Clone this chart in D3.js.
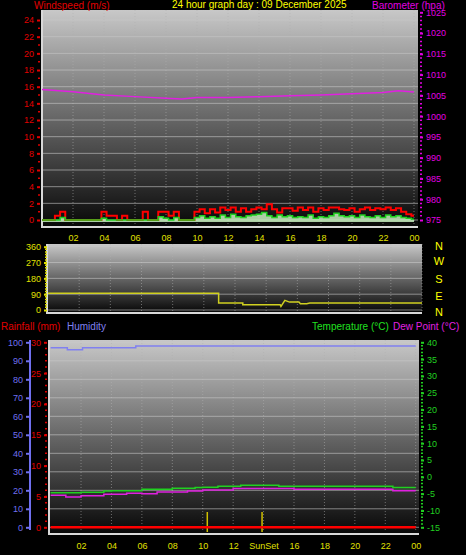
<!DOCTYPE html>
<html><head><meta charset="utf-8">
<script src="https://cdn.jsdelivr.net/npm/d3@7"></script>
<style>body{margin:0;background:#000}svg{display:block}text{font-family:"Liberation Sans","DejaVu Sans",sans-serif}</style>
</head><body><svg id="c" width="466" height="555"></svg>
<script>
// ---- data ----
const hourTicks = [2,4,6,8,10,12,14,16,18,20,22,24];
const hourLabels = ["02","04","06","08","10","12","14","16","18","20","22","00"];
const bottomLabels = ["02","04","06","08","10","12","SunSet","16","18","20","22","00"];
const pressHours = [0,2,4,6,8,9,10,12,14,16,18,20,22,23,24];
const pressure =   [1006.4,1005.9,1005.1,1004.7,1004.3,1004.1,1004.5,1004.5,1004.7,1004.9,1005.1,1005.4,1005.7,1006.1,1005.8];
const gust = [0,0,0, 0.5,1,0, 0,0,0, 0,0,0, 1,0.5,0.5, 0,0.5,0, 0,0,1, 0,0,1, 1,0.5,1, 0,0,0,
  1,1.3,0.8, 1.3,0.9,1.5, 1.2,1.5,1, 1.4,1,1.3, 1.5,1.3,1.9, 1.3,0.9,1.4, 1.4,1.1,1.5, 1.2,1.5,1,
  1.4,1.2,1.5, 1.5,1.3,1.2, 1.4,1,1.3, 1.5,1.2,1.4, 1.3,1.5,1.2, 1.4,1,0.7, 0.5];
const avgWind = [0,0,0, 0,0.3,0, 0,0,0, 0,0,0, 0.2,0,0, 0,0,0, 0,0,0, 0,0,0.4, 0.2,0,0.3, 0,0,0,
  0.3,0.5,0.2, 0.4,0.2,0.6, 0.3,0.7,0.4, 0.3,0.5,0.6, 0.7,0.9,0.5, 0.3,0.6,0.4, 0.5,0.3,0.4, 0.3,0.6,0.2,
  0.4,0.3,0.5, 0.8,0.5,0.4, 0.5,0.3,0.6, 0.4,0.3,0.5, 0.3,0.6,0.4, 0.5,0.3,0.2, 0.1];
const dirHours = [0,10.95,10.95,12.5,12.5,14.9,14.95,15.2,15.5,16.1,16.2,16.6,16.8,24];
const direction = [95,95,40,40,30,30,20,55,45,45,35,35,40,40];
const humHours = [0,1,1.1,2,2.1,5.5,5.6,24];
const humidity = [97,97,96,96,97,97,98,98];
const tHours = [0,2,3.5,4,6,8,9.5,10,11,12.5,15,22,22.5,24];
const temperature = [-4.7,-4.6,-4.2,-4.1,-3.7,-3.4,-3.2,-3.1,-2.8,-2.5,-2.8,-2.8,-3.2,-3.2];
const dHours = [0,1,2,3.5,5,6,7,9,10,12,15,16,22,22.5,24];
const dewpoint = [-5.5,-6.0,-5.6,-5.2,-4.9,-5.0,-4.5,-4.2,-3.9,-3.5,-3.5,-3.7,-3.7,-4.1,-4.1];
const rainfall = [0,0];
const sunEvents = [10.3,13.9];

const svg = d3.select("#c");
const defs = svg.append("defs");
const g = defs.append("linearGradient").attr("id","bg").attr("x1",0).attr("x2",0).attr("y1",0).attr("y2",1);
g.append("stop").attr("offset","0%").attr("stop-color","#c8c8c8");
g.append("stop").attr("offset","45%").attr("stop-color","#707070");
g.append("stop").attr("offset","100%").attr("stop-color","#080808");

function panel(x0,x1,y0,y1){
  svg.append("rect").attr("x",x0-2).attr("y",y0).attr("width",x1-x0+2).attr("height",y1-y0+2).attr("fill","#d8d8d8");
  svg.append("rect").attr("x",x0).attr("y",y0).attr("width",x1-x0).attr("height",y1-y0).attr("fill","url(#bg)");
}
function grid(x,y,xt,yt,x0,x1,y0,y1){
  svg.append("g").selectAll("line").data(xt).join("line").attr("x1",d=>x(d)).attr("x2",d=>x(d)).attr("y1",y0).attr("y2",y1)
    .attr("stroke","#b0b0b0").attr("stroke-opacity",0.55).attr("stroke-dasharray","1,2");
  svg.append("g").selectAll("line").data(yt).join("line").attr("y1",d=>y(d)).attr("y2",d=>y(d)).attr("x1",x0).attr("x2",x1)
    .attr("stroke","#c8c8c8").attr("stroke-opacity",0.6).attr("stroke-width",1);
}
function yAxis(scale,ticks,x,color,side,minor,fmt){
  const ax = (side==="left"?d3.axisLeft(scale):d3.axisRight(scale)).tickValues(ticks).tickSize(3).tickFormat(fmt||(d=>d));
  const a = svg.append("g").attr("transform",`translate(${x},0)`).call(ax);
  a.select(".domain").remove();
  a.selectAll("line").attr("stroke",color).attr("stroke-width",2);
  a.selectAll("text").attr("fill",color).attr("font-size",9);
  if(minor){
    svg.append("g").selectAll("line").data(minor).join("line").attr("x1",x).attr("x2",side==="left"?x-2:x+2)
      .attr("y1",d=>scale(d)).attr("y2",d=>scale(d)).attr("stroke",color).attr("stroke-width",1.5);
  }
  return a;
}
function xAxis(scale,y,labels){
  const a = svg.append("g").attr("transform",`translate(0,${y})`)
    .call(d3.axisBottom(scale).tickValues(hourTicks).tickSize(0).tickPadding(6).tickFormat((d,i)=>labels[i]));
  a.select(".domain").remove();
  a.selectAll("text").attr("fill","#e0e000").attr("font-size",9);
}
function txt(x,y,s,c,size,anchor){svg.append("text").attr("x",x).attr("y",y).text(s).attr("fill",c).attr("font-size",size||10).attr("text-anchor",anchor||"start");}

// ---- top panel ----
const x1 = d3.scaleLinear().domain([0,24]).range([42,414]);
const yW = d3.scaleLinear().domain([0,25]).range([220,11.7]);
const yP = d3.scaleLinear().domain([975,1025]).range([220,12.3]);
panel(43,418,10,226);
grid(x1,yW,hourTicks,d3.range(0,25,2),43,418,10,225);
yAxis(yW,d3.range(0,25,2),40,"#e00000","left",d3.range(1,25,2));
yAxis(yP,d3.range(975,1026,5),420,"#e000e0","right",d3.range(976,1025,1));
xAxis(x1,229,hourLabels);
const wx = i=>x1(i/3);
svg.append("path").datum(avgWind).attr("fill","#c8f0c0").attr("opacity",0.85)
  .attr("d",d3.area().x((d,i)=>wx(i)).y0(yW(0)+2).y1(d=>yW(d)).curve(d3.curveStep));
svg.append("path").datum(gust).attr("fill","none").attr("stroke","#ff0000").attr("stroke-width",2)
  .attr("d",d3.line().x((d,i)=>wx(i)).y(d=>yW(d)).curve(d3.curveStep));
svg.append("path").datum(avgWind).attr("fill","none").attr("stroke","#20d020").attr("stroke-width",1.5)
  .attr("d",d3.line().x((d,i)=>wx(i)).y(d=>yW(d)).curve(d3.curveStep));
svg.append("path").datum(pressure).attr("fill","none").attr("stroke","#e020e0").attr("stroke-width",1.5)
  .attr("d",d3.line().x((d,i)=>x1(pressHours[i])).y(d=>yP(d)));
txt(34,9,"Windspeed (m/s)","#e00000",10);
txt(172,8,"24 hour graph day : 09 December 2025","#ffff00",10);
txt(372,9,"Barometer (hpa)","#e000e0",10);

// ---- middle panel ----
const x2 = d3.scaleLinear().domain([0,24]).range([48,422]);
const yD = d3.scaleLinear().domain([0,360]).range([310,246.7]);
panel(48,422,244,312);
grid(x2,yD,hourTicks,[0,90,180,270,360],48,422,244,312);
yAxis(yD,[0,90,180,270,360],47,"#e0e000","left",d3.range(15,360,15),d=>d);
svg.append("path").datum(direction).attr("fill","none").attr("stroke","#d0d020").attr("stroke-width",1.5)
  .attr("d",d3.line().x((d,i)=>x2(dirHours[i])).y(d=>yD(d)));
["N","W","S","E","N"].forEach((s,i)=>txt(439,[250,265,283,300,316][i],s,"#ffff00",11,"middle"));

// ---- bottom panel ----
const x3 = d3.scaleLinear().domain([0,24]).range([50.6,415.7]);
const yH = d3.scaleLinear().domain([0,100]).range([527.3,342.3]);
const yR = d3.scaleLinear().domain([0,30]).range([527.3,342.3]);
const yT = d3.scaleLinear().domain([-15,40]).range([527.3,342.3]);
panel(50,419,340,533);
grid(x3,yH,hourTicks,d3.range(0,101,10),50,419,340,532);
svg.append("line").attr("x1",30).attr("x2",30).attr("y1",340).attr("y2",530).attr("stroke","#7070f0").attr("stroke-width",2);
yAxis(yH,d3.range(0,101,10),29,"#7070f0","left");
yAxis(yR,d3.range(0,31,5),47,"#e00000","left",d3.range(1,30,1));
yAxis(yT,d3.range(-15,41,5),421,"#20d020","right",d3.range(-14,40,1));
xAxis(x3,537,bottomLabels);
svg.append("g").selectAll("line").data(sunEvents).join("line").attr("x1",d=>x3(d)).attr("x2",d=>x3(d))
  .attr("y1",512).attr("y2",532).attr("stroke","#d0c000").attr("stroke-width",1.5);
svg.append("path").datum(rainfall).attr("fill","none").attr("stroke","#ff0000").attr("stroke-width",2.5)
  .attr("d",d3.line().x((d,i)=>x3(i*24)).y(d=>yR(d)));
svg.append("path").datum(humidity).attr("fill","none").attr("stroke","#8080f0").attr("stroke-width",1.5)
  .attr("d",d3.line().x((d,i)=>x3(humHours[i])).y(d=>yH(d)).curve(d3.curveStepAfter));
svg.append("path").datum(dewpoint).attr("fill","none").attr("stroke","#e020e0").attr("stroke-width",1.5)
  .attr("d",d3.line().x((d,i)=>x3(dHours[i])).y(d=>yT(d)).curve(d3.curveStepAfter));
svg.append("path").datum(temperature).attr("fill","none").attr("stroke","#20d020").attr("stroke-width",1.5)
  .attr("d",d3.line().x((d,i)=>x3(tHours[i])).y(d=>yT(d)).curve(d3.curveStepAfter));
txt(1,330,"Rainfall (mm)","#e00000",10);
txt(67,330,"Humidity","#8080f0",10);
txt(312,330,"Temperature (°C)","#20e020",10);
txt(393,330,"Dew Point (°C)","#e020e0",10);
</script></body></html>
